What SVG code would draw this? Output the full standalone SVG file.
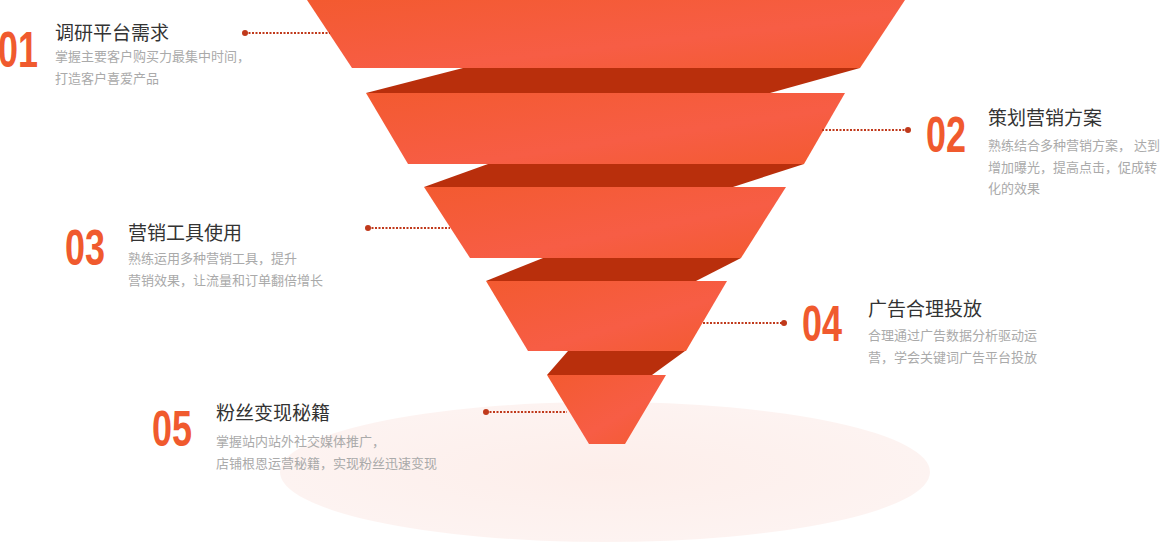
<svg xmlns="http://www.w3.org/2000/svg" width="1168" height="542" viewBox="0 0 1168 542">
<defs>
<linearGradient id="g" x1="0" y1="0" x2="1" y2="1"><stop offset="0" stop-color="#f35a30"/><stop offset="0.6" stop-color="#f75d45"/><stop offset="1" stop-color="#f35a30"/></linearGradient>
<radialGradient id="e"><stop offset="0" stop-color="#fdeeea"/><stop offset="1" stop-color="#fdf3f1"/></radialGradient>
</defs>
<style>
.b{fill:url(#g)}.d{fill:#b92f0c}
.n{font-family:"Liberation Sans",sans-serif;font-weight:bold;font-size:50px;fill:#f05a2e}
.t{font-family:"Noto Sans CJK SC",sans-serif;font-size:19px;fill:#333}
.s{font-family:"Noto Sans CJK SC",sans-serif;font-size:13px;fill:#aaa}
.c{stroke:#c0391b;stroke-width:2;stroke-dasharray:2 1.5;fill:none}
.p{fill:#c0391b}
</style>
<ellipse cx="605" cy="472" rx="325" ry="70" fill="url(#e)"/>
<g id="funnel">
<polygon class="d" points="463,68 860,68 770,93 366,93"/>
<polygon class="d" points="488,164 804,164 733,187 424,187"/>
<polygon class="d" points="543,258 741,258 696,281 486,281"/>
<polygon class="d" points="568,351 685,351 652,375 547,375"/>
<polygon class="b" points="307,0 905,0 860,68 352,68"/>
<polygon class="b" points="366,93 845,93 804,164 408,164"/>
<polygon class="b" points="424,187 786,187 741,258 470,258"/>
<polygon class="b" points="486,281 727,281 686,351 528,351"/>
<polygon class="b" points="547,375 666,375 625,444 589,444"/>
</g>
<g id="connectors">
<path class="c" d="M245 33H330"/><circle class="p" cx="245" cy="33" r="3"/>
<path class="c" d="M822 130H908"/><circle class="p" cx="908" cy="130" r="3"/>
<path class="c" d="M368 228H450"/><circle class="p" cx="368" cy="228" r="3"/>
<path class="c" d="M703 323H784"/><circle class="p" cx="784" cy="323" r="3"/>
<path class="c" d="M486 412H567"/><circle class="p" cx="486" cy="412" r="3"/>
</g>
<g id="n1"><text class="n" transform="translate(-2,67) scale(0.72,1)">01</text>
<text class="t" x="55" y="40">调研平台需求</text>
<text class="s" x="55" y="61">掌握主要客户购买力最集中时间，</text><text class="s" x="55" y="83">打造客户喜爱产品</text></g>
<g id="n2"><text class="n" transform="translate(926,152) scale(0.72,1)">02</text>
<text class="t" x="988" y="125">策划营销方案</text>
<text class="s" x="988" y="150">熟练结合多种营销方案， 达到</text><text class="s" x="988" y="172">增加曝光，提高点击，促成转</text><text class="s" x="988" y="193">化的效果</text></g>
<g id="n3"><text class="n" transform="translate(65,265) scale(0.72,1)">03</text>
<text class="t" x="128" y="240">营销工具使用</text>
<text class="s" x="128" y="263">熟练运用多种营销工具，提升</text><text class="s" x="128" y="285">营销效果，让流量和订单翻倍增长</text></g>
<g id="n4"><text class="n" transform="translate(802,341) scale(0.72,1)">04</text>
<text class="t" x="868" y="316">广告合理投放</text>
<text class="s" x="868" y="340">合理通过广告数据分析驱动运</text><text class="s" x="868" y="362">营，学会关键词广告平台投放</text></g>
<g id="n5"><text class="n" transform="translate(152,446) scale(0.72,1)">05</text>
<text class="t" x="216" y="420">粉丝变现秘籍</text>
<text class="s" x="216" y="446">掌握站内站外社交媒体推广，</text><text class="s" x="216" y="468">店铺根恩运营秘籍，实现粉丝迅速变现</text></g>
</svg>
